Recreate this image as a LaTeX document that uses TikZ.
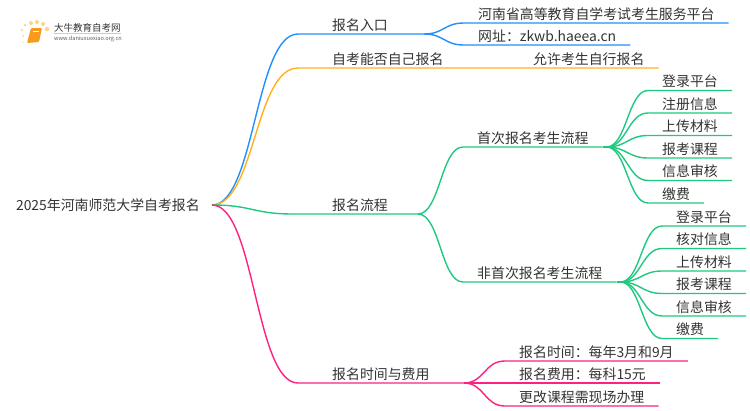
\documentclass[tikz,border=0pt]{standalone}
\usepackage{fontspec}
\setmainfont{Noto Sans CJK SC}
\definecolor{txtgray}{HTML}{333333}
\definecolor{brblue}{HTML}{2090FF}
\definecolor{brorange}{HTML}{FFB020}
\definecolor{brgreen}{HTML}{20C880}
\definecolor{brpink}{HTML}{FF2080}
\definecolor{bookorange}{HTML}{F79A1E}
\definecolor{dotyellow}{HTML}{FBD588}
\tikzset{
  topic/.style={anchor=south west,inner xsep=14pt,inner ysep=0.5pt,text height=11pt,text depth=3pt,
    text=txtgray,font=\fontsize{13.9pt}{15pt}\selectfont},
  branch/.style={line width=1.4pt,line join=round},
  logodot/.style={circle,fill=dotyellow,inner sep=0pt,minimum size=#1}
}
\begin{document}
\begin{tikzpicture}[x=1pt,y=-1pt]
  \useasboundingbox (0,0) rectangle (750,410);

  % logo
  \foreach \px/\py/\ps in {25/25/3pt,31/23/4pt,37/22/4pt,43/24/4pt,47/29/4.5pt,22/30/2.5pt,23/36/2pt,23/42/1.5pt}
    \node[logodot=\ps] at (\px,\py) {};
  \fill[bookorange,rounded corners=1pt] (31,28) -- (42,28) -- (39,42) -- (27,43) -- cycle;
  \draw[white,line width=0.5pt] (33,31) -- (39,31);
  \node[anchor=west,inner sep=0pt,text=txtgray,font=\fontsize{9.5pt}{10pt}\selectfont] (logo) at (54,27.5) {大牛教育自考网};
  \node[anchor=west,inner sep=0pt,text=txtgray!80,font=\fontsize{5.6pt}{6pt}\selectfont] (url) at (54,39) {www.daniuxuexiao.org.cn};
  \draw[black!20,line width=0.5pt] (logo.south west) ++(0,1) -- ++(67,0);

  \node[anchor=east,inner xsep=12pt,text=txtgray,font=\fontsize{13.9pt}{15pt}\selectfont] (0) at (212,205) {2025年河南师范大学自考报名};

  \node[topic] (1) at (318,34) {报名入口};
  \node[topic] (11) at (464,23) {河南省高等教育自学考试考生服务平台};
  \node[topic] (12) at (464,45) {网址：zkwb.haeea.cn};
  \node[topic] (2) at (318,68) {自考能否自己报名};
  \node[topic] (21) at (519,68) {允许考生自行报名};
  \node[topic] (3) at (318,214) {报名流程};
  \node[topic] (31) at (463,147) {首次报名考生流程};
  \node[topic] (32) at (463,282) {非首次报名考生流程};
  \node[topic] (4) at (318,383) {报名时间与费用};
  \node[topic] (41) at (505,361) {报名时间：每年3月和9月};
  \node[topic] (42) at (505,383) {报名费用：每科15元};
  \node[topic] (43) at (505,406) {更改课程需现场办理};

  \node[topic] (311) at (648,90.5) {登录平台};
  \node[topic] (312) at (648,113) {注册信息};
  \node[topic] (313) at (648,135.5) {上传材料};
  \node[topic] (314) at (648,158) {报考课程};
  \node[topic] (315) at (648,180.5) {信息审核};
  \node[topic] (316) at (648,203) {缴费};
  \node[topic] (321) at (662,226) {登录平台};
  \node[topic] (322) at (662,248.5) {核对信息};
  \node[topic] (323) at (662,271) {上传材料};
  \node[topic] (324) at (662,293.5) {报考课程};
  \node[topic] (325) at (662,316) {信息审核};
  \node[topic] (326) at (662,338.5) {缴费};

  \coordinate (fork1) at ([xshift=22]1.south east);
  \coordinate (fork3) at ([xshift=16]3.south east);
  \coordinate (fork31) at ([xshift=4]31.south east);
  \coordinate (fork32) at ([xshift=4]32.south east);
  \coordinate (fork4) at ([xshift=20]4.south east);

  % first level
  \draw[branch,brblue] (0.east) .. controls +(43,0) and +(-43,0) .. ([xshift=-20]1.south west) -- (fork1);
  \draw[branch,brorange] (0.east) .. controls +(43,0) and +(-43,0) .. ([xshift=-20]2.south west) -- (21.south east);
  \draw[branch,brgreen] (0.east) .. controls +(40,0) and +(-40,0) .. ([xshift=-25]3.south west) -- (fork3);
  \draw[branch,brpink] (0.east) .. controls +(43,0) and +(-43,0) .. ([xshift=-20]4.south west) -- (fork4);

  % second level
  \foreach \i in {11,12}
    \draw[branch,brblue] (fork1) .. controls +(20,0) and +(-20,0) .. (\i.south west) -- (\i.south east);
  \foreach \i in {31,32}
    \draw[branch,brgreen] (fork3) .. controls +(22,0) and +(-22,0) .. (\i.south west) -- (\i.south east);
  \foreach \i in {41,42,43}
    \draw[branch,brpink] (fork4) .. controls +(21,0) and +(-21,0) .. (\i.south west) -- (\i.south east);

  % third level
  \draw[branch,brgreen] (31.south east) -- (fork31);
  \draw[branch,brgreen] (32.south east) -- (fork32);
  \foreach \i in {311,312,313,314,315,316}
    \draw[branch,brgreen] (fork31) .. controls +(20,0) and +(-20,0) .. (\i.south west) -- (\i.south east);
  \foreach \i in {321,322,323,324,325,326}
    \draw[branch,brgreen] (fork32) .. controls +(20,0) and +(-20,0) .. (\i.south west) -- (\i.south east);
\end{tikzpicture}
\end{document}
